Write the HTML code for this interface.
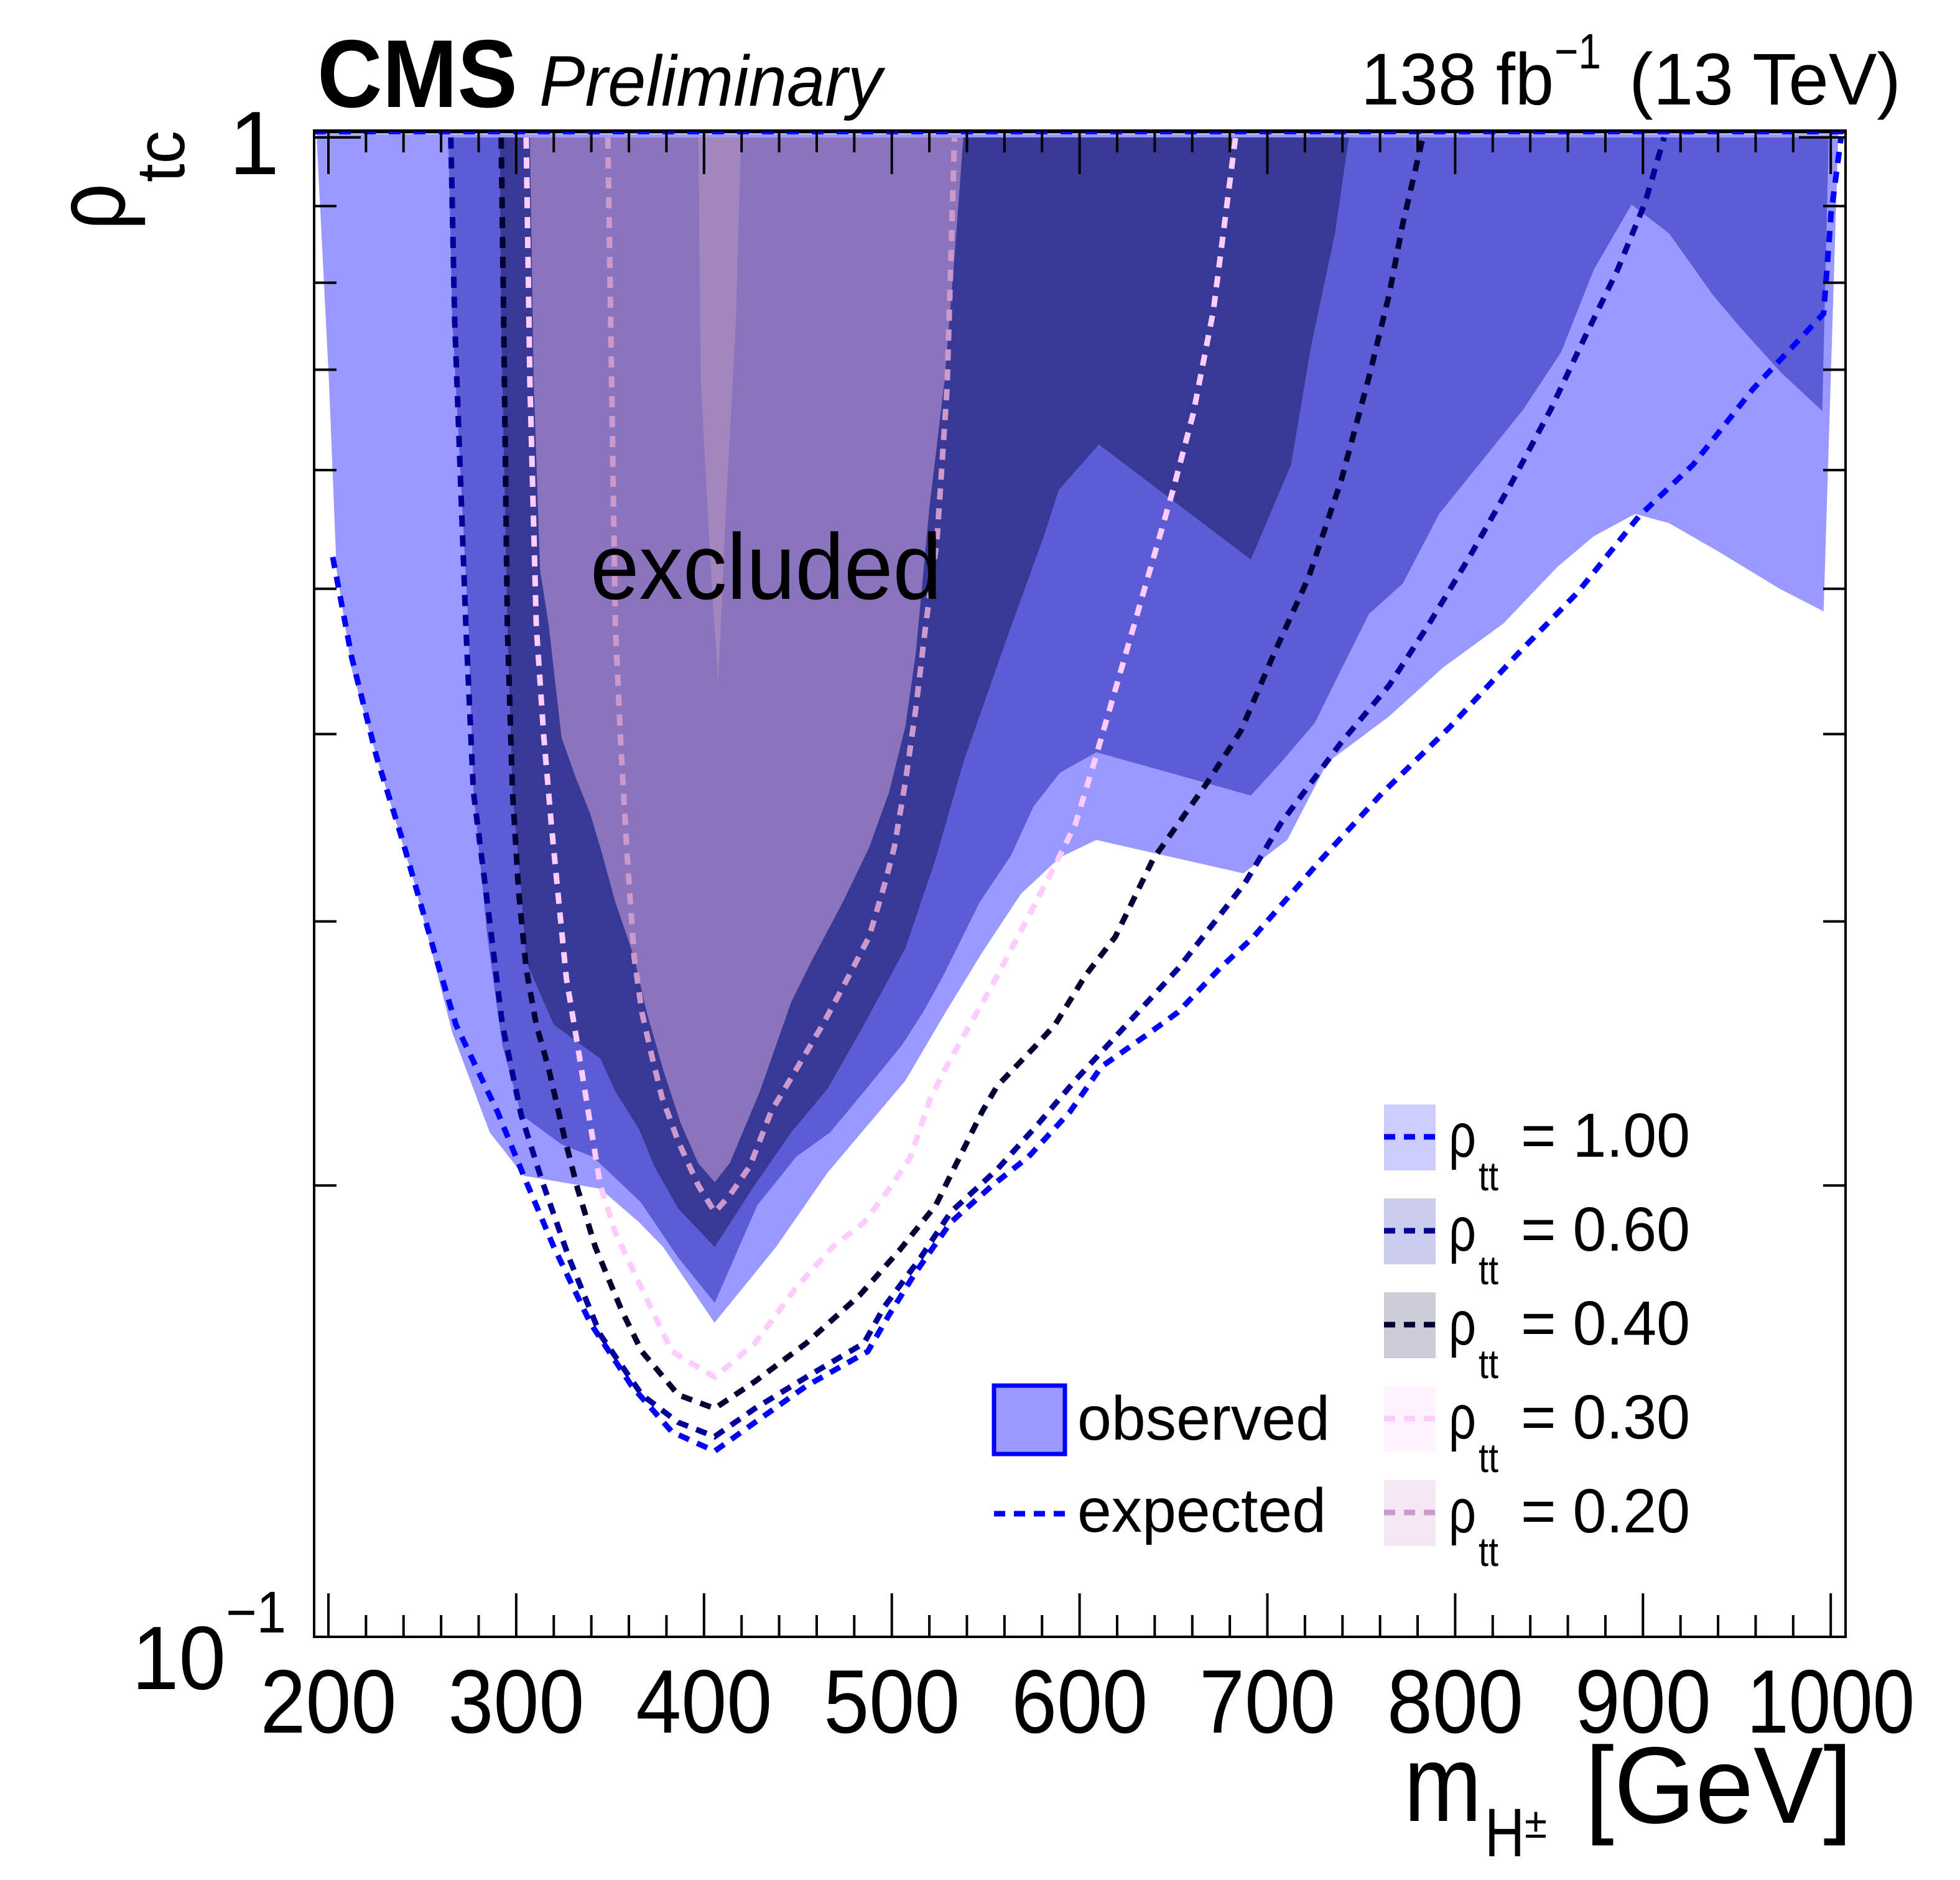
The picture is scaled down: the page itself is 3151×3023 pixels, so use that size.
<!DOCTYPE html>
<html><head><meta charset="utf-8"><style>
html,body{margin:0;padding:0;background:#fff;}
svg{display:block;font-family:"Liberation Sans",Arial,sans-serif;}
</style></head><body>
<svg id="chart" width="3151" height="3023" viewBox="0 0 3151 3023" xmlns="http://www.w3.org/2000/svg">
<defs><clipPath id="plotclip"><rect x="505" y="210" width="2462" height="2422"/></clipPath></defs>
<rect width="3151" height="3023" fill="#fff"/>
<g id="fills" clip-path="url(#plotclip)"></g>
<g id="lines" clip-path="url(#plotclip)"></g>
<line x1="505" y1="212" x2="2967" y2="212" stroke="#000" stroke-width="5"/>
<line x1="505" y1="212" x2="2967" y2="212" stroke="#0000ff" stroke-width="8" stroke-dasharray="19 21"/>
<g id="axes"></g>
<rect x="505" y="210" width="2462" height="2422" fill="none" stroke="#000" stroke-width="4"/>

<text x="510" y="172" font-size="155" font-weight="bold" textLength="322" lengthAdjust="spacingAndGlyphs">CMS</text>
<text x="867" y="170" font-size="115" font-style="italic" textLength="551" lengthAdjust="spacingAndGlyphs">Preliminary</text>
<g>
<text x="2188" y="168" font-size="118" textLength="310" lengthAdjust="spacingAndGlyphs">138 fb</text>
<text x="2499" y="110" font-size="80" textLength="75" lengthAdjust="spacingAndGlyphs">−1</text>
<text x="2619" y="168" font-size="118" textLength="437" lengthAdjust="spacingAndGlyphs">(13 TeV)</text>
</g>
<text x="949" y="963" font-size="150" textLength="565" lengthAdjust="spacingAndGlyphs">excluded</text>

<g>
<text x="2257" y="2928" font-size="175" textLength="125" lengthAdjust="spacingAndGlyphs">m</text>
<text x="2387" y="2985" font-size="110" textLength="64" lengthAdjust="spacingAndGlyphs">H</text>
<text x="2451" y="2955" font-size="70" textLength="36" lengthAdjust="spacingAndGlyphs">±</text>
<text x="2548" y="2931" font-size="175" textLength="430" lengthAdjust="spacingAndGlyphs">[GeV]</text>
</g>
<g>
<text transform="translate(200,370) rotate(-90)" font-size="160" textLength="75" lengthAdjust="spacingAndGlyphs">ρ</text>
<text transform="translate(296,293) rotate(-90)" font-size="110" textLength="83" lengthAdjust="spacingAndGlyphs">tc</text>
</g>
<g>
<text x="449" y="280" font-size="145" text-anchor="end">1</text>
<text x="212" y="2716" font-size="145" textLength="151" lengthAdjust="spacingAndGlyphs">10</text>
<text x="363" y="2625" font-size="95" textLength="97" lengthAdjust="spacingAndGlyphs">−1</text>
</g>
<g id="legend">
<rect x="1598" y="2228" width="114" height="110" fill="#9999ff" stroke="#0000ff" stroke-width="7"/>
<text x="1732" y="2315" font-size="100" textLength="406" lengthAdjust="spacingAndGlyphs">observed</text>
<line x1="1598" y1="2434" x2="1712" y2="2434" stroke="#0000ff" stroke-width="9" stroke-dasharray="18 14"/>
<text x="1732" y="2463" font-size="100" textLength="400" lengthAdjust="spacingAndGlyphs">expected</text>
</g>
</svg>
<script>
// ---- data: [m (GeV), rho_tc] ----
const obsRho100 = [[193.6,1.005],[200.3,0.687],[204.3,0.515],[212.4,0.442],[225.7,0.386],[245.8,0.318],[265.9,0.253],[285.9,0.217],[304,0.203],[344.8,0.199],[365.5,0.189],[378.2,0.182],[405.6,0.162],[438.4,0.182],[465.8,0.204],[507.3,0.235],[528.7,0.261],[548.1,0.286],[568.8,0.313],[589.5,0.331],[608.9,0.340],[687.2,0.323],[710.6,0.340],[732,0.383],[764.8,0.411],[793.5,0.443],[825.6,0.474],[854.4,0.517],[873.8,0.542],[895.9,0.561],[913.9,0.553],[940.7,0.529],[972.8,0.500],[996.2,0.483],[1004,1.005]];
const obsRho060 = [[263.9,1],[265.9,0.759],[274.6,0.472],[277.2,0.366],[284.6,0.293],[292.6,0.248],[302.6,0.223],[324.1,0.213],[340.8,0.209],[366.2,0.195],[386.3,0.179],[405.7,0.167],[428.4,0.194],[449.1,0.209],[467.2,0.217],[485.2,0.231],[505.3,0.248],[516.7,0.261],[527.4,0.276],[546.8,0.309],[563.5,0.332],[575.5,0.358],[589.6,0.377],[609.0,0.389],[691.2,0.364],[707.3,0.383],[725.3,0.407],[739.4,0.442],[754.1,0.481],[772.1,0.504],[791.5,0.561],[814.9,0.610],[836.4,0.659],[856.4,0.719],[873.8,0.816],[893.9,0.902],[913.9,0.863],[937.3,0.785],[951.4,0.748],[973.5,0.697],[995.5,0.657],[998.9,1]];
const obsRho040 = [[291.3,1],[292.0,0.759],[295.3,0.472],[298.0,0.366],[302.7,0.314],[305.3,0.282],[320.0,0.256],[344.8,0.243],[352.8,0.231],[365.5,0.218],[373.5,0.206],[386.3,0.193],[405.7,0.182],[425.7,0.199],[446.4,0.217],[465.8,0.232],[485.2,0.256],[507.3,0.288],[523.3,0.330],[538.1,0.383],[560.1,0.459],[581.6,0.545],[588.9,0.582],[610.3,0.624],[639.1,0.586],[691.2,0.523],[712.6,0.605],[723.3,0.726],[736.0,0.863],[743.4,1]];
const obsRho030 = [[307.3,1],[309.3,0.687],[312.7,0.515],[317.4,0.472],[324.1,0.398],[331.4,0.375],[339.4,0.354],[344.8,0.336],[352.8,0.309],[362.8,0.284],[369.5,0.261],[378.2,0.239],[387.6,0.220],[396.9,0.207],[405.7,0.201],[413.7,0.207],[429.7,0.231],[446.4,0.265],[457.1,0.282],[473.9,0.309],[487.9,0.336],[498.6,0.366],[507.3,0.405],[512.7,0.452],[520.0,0.566],[528.0,0.687],[533.4,0.832],[538.1,1]];
const obsRho020 = [[397,1],[398.3,0.687],[403.6,0.515],[407.6,0.433],[411.7,0.566],[417,0.756],[419.7,1]];

const expRho100 = [[202.3,0.525],[212.4,0.450],[225.7,0.386],[239.1,0.341],[257.2,0.284],[267.9,0.256],[290.0,0.224],[304.7,0.202],[320.0,0.182],[339.4,0.162],[361.5,0.147],[382.9,0.137],[405.7,0.133],[427.1,0.139],[454.5,0.147],[487.2,0.155],[498.6,0.164],[512.7,0.175],[531.4,0.189],[553.5,0.200],[572.8,0.209],[594.9,0.224],[611.6,0.240],[635.7,0.252],[652.4,0.261],[674.5,0.279],[692.6,0.293],[728.7,0.330],[760.8,0.365],[796.9,0.404],[833.0,0.452],[865.1,0.497],[897.9,0.559],[926.7,0.605],[958.8,0.680],[996.2,0.763],[1000.2,0.890],[1005.5,1]];
const expRho060 = [[265.2,1],[267.2,0.756],[273.2,0.472],[277.2,0.366],[284.6,0.309],[292.6,0.256],[302.6,0.223],[313.4,0.202],[328.1,0.179],[344.8,0.159],[366.9,0.145],[386.3,0.139],[405.7,0.136],[427.1,0.142],[454.5,0.149],[485.2,0.157],[496.0,0.166],[515.3,0.179],[531.4,0.192],[556.1,0.205],[578.2,0.220],[597.6,0.235],[625.0,0.256],[652.4,0.279],[687.9,0.318],[707.3,0.349],[739.4,0.395],[764.8,0.431],[786.2,0.474],[807.6,0.525],[829.6,0.587],[851.0,0.659],[869.1,0.736],[886.5,0.816],[901.2,0.905],[911.3,1]];
const expRho040 = [[292,1],[293.3,0.756],[295.3,0.472],[298.0,0.366],[301.3,0.314],[305.3,0.279],[310.7,0.256],[317.4,0.239],[325.4,0.216],[332.7,0.199],[342.1,0.182],[356.2,0.165],[366.9,0.155],[386.3,0.145],[405.7,0.142],[427.1,0.148],[454.5,0.157],[482.9,0.169],[504.0,0.181],[523.4,0.194],[548.1,0.224],[556.1,0.233],[575.5,0.247],[586.9,0.256],[603.0,0.276],[619.0,0.293],[639.1,0.330],[667.8,0.371],[685.9,0.402],[703.3,0.452],[722.0,0.509],[739.4,0.591],[754.1,0.692],[764.8,0.785],[772.1,0.876],[782.8,1]];
const expRho030 = [[305.3,1],[307.3,0.687],[310.7,0.472],[314.7,0.398],[318.7,0.348],[322.7,0.309],[326.7,0.275],[332.7,0.248],[339.4,0.220],[344.8,0.200],[352.8,0.186],[369.5,0.168],[382.9,0.155],[405.7,0.149],[427.1,0.157],[449.1,0.171],[468.5,0.182],[485.2,0.189],[498.6,0.199],[510.0,0.209],[520.7,0.229],[531.4,0.243],[553.5,0.272],[570.2,0.298],[586.9,0.327],[597.6,0.348],[608.3,0.385],[628.4,0.470],[649.8,0.582],[660.5,0.654],[671.2,0.766],[676.5,0.863],[683,1]];
const expRho020 = [[348.8,1],[350.8,0.687],[352.8,0.472],[355.5,0.398],[358.8,0.336],[362.8,0.284],[366.9,0.261],[372.2,0.244],[377.6,0.229],[386.3,0.214],[397.0,0.200],[405.7,0.192],[413.7,0.197],[424.4,0.206],[435.7,0.224],[449.1,0.239],[463.2,0.256],[476.5,0.275],[487.9,0.293],[496.0,0.317],[501.3,0.336],[507.3,0.372],[512.7,0.415],[518.0,0.472],[524.0,0.538],[529.4,0.680],[533.4,1]];

const xTicksMajor = [200,300,400,500,600,700,800,900,1000];
const xTickLabels = ["200","300","400","500","600","700","800","900","1000"];
const yTicksMinor = [0.2,0.3,0.4,0.5,0.6,0.7,0.8,0.9];
const yTicksMajor = [0.1,1];
const legendLabels = ["= 1.00","= 0.60","= 0.40","= 0.30","= 0.20"];

// ---- scales ----
const xS = m => 528 + (m - 200) * 3.019;
const yS = r => 2632 - (Math.log10(r) + 1) * 2411;
const NS = "http://www.w3.org/2000/svg";
function mk(tag, attrs, parent){ const e=document.createElementNS(NS,tag); for(const k in attrs) e.setAttribute(k,attrs[k]); parent.appendChild(e); return e; }
const pts = arr => arr.map(p => xS(p[0]).toFixed(1)+","+yS(p[1]).toFixed(1)).join(" ");

const fills = document.getElementById("fills");
const fillSpecs = [[obsRho100,"#9999ff","observed-region-rhott-1.00"],[obsRho060,"#5c5cd6","observed-region-rhott-0.60"],[obsRho040,"#383896","observed-region-rhott-0.40"],[obsRho030,"#8a74bd","observed-region-rhott-0.30"],[obsRho020,"#a385c0","observed-region-rhott-0.20"]];
fillSpecs.forEach(s => {
  const el = mk("polygon",{points:pts(s[0]),fill:s[1],stroke:"none"},fills);
  
  
});

const lines = document.getElementById("lines");
const lineSpecs = [[expRho100,"#0000ff","expected-line-rhott-1.00"],[expRho060,"#000099","expected-line-rhott-0.60"],[expRho040,"#000033","expected-line-rhott-0.40"],[expRho030,"#ffccff","expected-line-rhott-0.30"],[expRho020,"#cc99cc","expected-line-rhott-0.20"]];
lineSpecs.forEach(s => {
  const el = mk("polyline",{points:pts(s[0]),fill:"none",stroke:s[1],"stroke-width":9,"stroke-dasharray":"18 14"},lines);
  
  
});

const axes = document.getElementById("axes");
for(let m=200; m<=1000; m+=20){
  const major = (m % 100 === 0);
  const len = major ? 70 : 35;
  const x = xS(m);
  const b = mk("line",{x1:x,y1:2632,x2:x,y2:2632-len,stroke:"#000","stroke-width":4},axes);
  
  
  const t = mk("line",{x1:x,y1:210,x2:x,y2:210+len,stroke:"#000","stroke-width":4},axes);
  
  
}
xTicksMajor.forEach((m,i) => {
  const w = xTickLabels[i].length === 4 ? 270 : 219;
  const el = mk("text",{x:xS(m)-w/2,y:2786,"font-size":145,textLength:w,lengthAdjust:"spacingAndGlyphs"},axes);
  el.textContent = xTickLabels[i];
  
  
});
yTicksMinor.concat(yTicksMajor).forEach(r => {
  const len = yTicksMajor.includes(r) ? 75 : 36;
  const y = yS(r);
  const l = mk("line",{x1:505,y1:y,x2:505+len,y2:y,stroke:"#000","stroke-width":4},axes);
  
  
  const rr = mk("line",{x1:2967,y1:y,x2:2967-len,y2:y,stroke:"#000","stroke-width":4},axes);
  
  
});

const legend = document.getElementById("legend");
const legBox = ["#ccccff","#ccccec","#cccdd9","#fff3ff","#f4e8f4"];
lineSpecs.forEach((s,i) => {
  const top = 1776 + i*151;
  const bx = mk("rect",{x:2225,y:top,width:83,height:106,fill:legBox[i]},legend);
  
  
  const ln = mk("line",{x1:2225,y1:top+52,x2:2308,y2:top+52,stroke:s[1],"stroke-width":9,"stroke-dasharray":"18 14"},legend);
  
  
  const base = 1860 + i*151;
  const g = mk("g",{},legend);
  
  
  const t1 = mk("text",{x:2329,y:base,"font-size":100,textLength:44,lengthAdjust:"spacingAndGlyphs"},g);
  t1.textContent = "ρ";
  const t2 = mk("text",{x:2377,y:base+54,"font-size":66,textLength:32,lengthAdjust:"spacingAndGlyphs"},g);
  t2.textContent = "tt";
  const t3 = mk("text",{x:2445,y:base,"font-size":100,textLength:272,lengthAdjust:"spacingAndGlyphs"},g);
  t3.textContent = legendLabels[i];
});
</script>
</body></html>
